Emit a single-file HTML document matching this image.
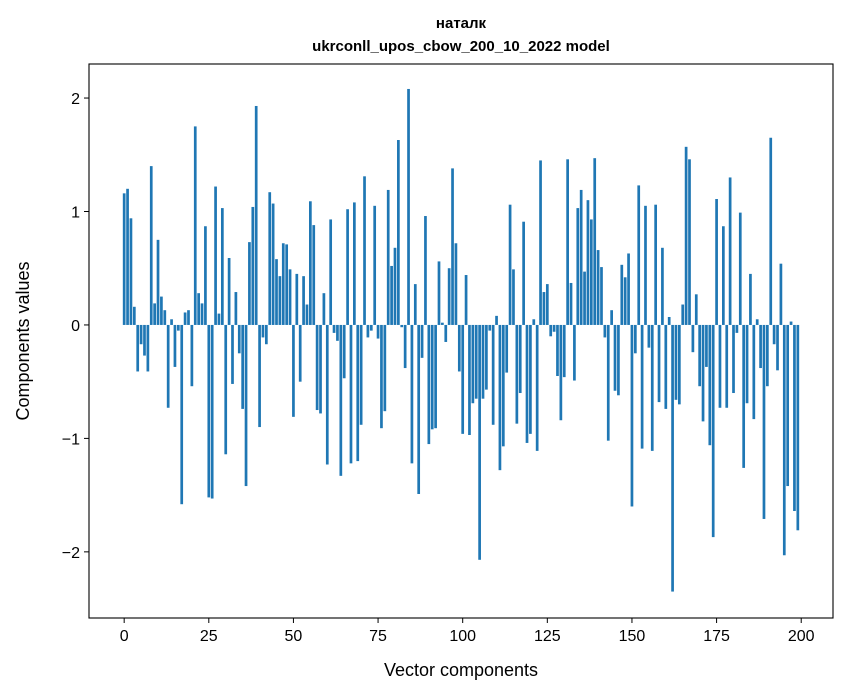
<!DOCTYPE html>
<html><head><meta charset="utf-8"><style>
body{margin:0;background:#fff;}
svg{display:block;font-family:"Liberation Sans","DejaVu Sans",sans-serif;}
</style></head><body>
<svg id="chart" width="847" height="696" viewBox="0 0 847 696" xmlns="http://www.w3.org/2000/svg">
<rect width="847" height="696" fill="#fff"/>
<text x="461" y="28" text-anchor="middle" font-size="15" font-weight="bold">наталк</text>
<text x="461" y="51" text-anchor="middle" font-size="15" font-weight="bold">ukrconll_upos_cbow_200_10_2022 model</text>
<g id="bars"></g>
<rect x="89" y="64" width="744" height="554" fill="none" stroke="#000" stroke-width="1.1"/>
<g id="xticks"></g>
<g id="yticks"></g>
<text x="461" y="676" text-anchor="middle" font-size="18">Vector components</text>
<text transform="translate(29,341) rotate(-90)" text-anchor="middle" font-size="18">Components values</text>
</svg>
<script>
const values = [1.16,1.20,0.94,0.16,-0.41,-0.17,-0.27,-0.41,1.40,0.19,0.75,0.25,0.13,-0.73,0.05,-0.37,-0.05,-1.58,0.11,0.13,
-0.54,1.75,0.28,0.19,0.87,-1.52,-1.53,1.22,0.10,1.03,-1.14,0.59,-0.52,0.29,-0.25,-0.74,-1.42,0.73,1.04,1.93,
-0.90,-0.11,-0.17,1.17,1.07,0.58,0.43,0.72,0.71,0.49,-0.81,0.45,-0.50,0.43,0.18,1.09,0.88,-0.75,-0.78,0.28,
-1.23,0.93,-0.07,-0.14,-1.33,-0.47,1.02,-1.22,1.08,-1.20,-0.88,1.31,-0.11,-0.05,1.05,-0.12,-0.91,-0.76,1.19,0.52,
0.68,1.63,-0.02,-0.38,2.08,-1.22,0.36,-1.49,-0.29,0.96,-1.05,-0.92,-0.91,0.56,0.02,-0.15,0.50,1.38,0.72,-0.41,
-0.96,0.44,-0.97,-0.69,-0.65,-2.07,-0.65,-0.57,-0.05,-0.88,0.08,-1.28,-1.07,-0.42,1.06,0.49,-0.87,-0.60,0.91,-1.04,
-0.96,0.05,-1.11,1.45,0.29,0.36,-0.10,-0.06,-0.45,-0.84,-0.46,1.46,0.37,-0.49,1.03,1.19,0.47,1.10,0.93,1.47,
0.66,0.51,-0.11,-1.02,0.13,-0.58,-0.62,0.53,0.42,0.63,-1.60,-0.25,1.23,-1.09,1.05,-0.20,-1.11,1.06,-0.68,0.68,
-0.74,0.07,-2.35,-0.66,-0.70,0.18,1.57,1.46,-0.24,0.27,-0.54,-0.85,-0.37,-1.06,-1.87,1.11,-0.73,0.87,-0.73,1.30,
-0.60,-0.07,0.99,-1.26,-0.69,0.45,-0.83,0.05,-0.38,-1.71,-0.54,1.65,-0.17,-0.40,0.54,-2.03,-1.42,0.03,-1.64,-1.81];
const xTicks = [0,25,50,75,100,125,150,175,200];
const yTicks = [-2,-1,0,1,2];
const yTickLabels = ["\u22122","\u22121","0","1","2"];

const NS="http://www.w3.org/2000/svg";
const X0=89,X1=833,Y0=64,Y1=618;
const xmin=-10.39,xmax=209.39,ymin=-2.583,ymax=2.30;
const xs=v=>X0+(v-xmin)/(xmax-xmin)*(X1-X0);
const ys=v=>Y1-(v-ymin)/(ymax-ymin)*(Y1-Y0);
const bars=document.getElementById('bars');
values.forEach((v,i)=>{
  const r=document.createElementNS(NS,'rect');
  
  
  const xl=xs(i-0.4), xr=xs(i+0.4);
  const y=Math.min(ys(v),ys(0)), h=Math.abs(ys(v)-ys(0));
  r.setAttribute('x',xl);r.setAttribute('width',xr-xl);
  r.setAttribute('y',y);r.setAttribute('height',h);
  r.setAttribute('fill','#1f77b4');
  bars.appendChild(r);
});
const xg=document.getElementById('xticks');
xTicks.forEach(t=>{
  const l=document.createElementNS(NS,'line');
  
  
  l.setAttribute('x1',xs(t));l.setAttribute('x2',xs(t));
  l.setAttribute('y1',Y1);l.setAttribute('y2',Y1+5);
  l.setAttribute('stroke','#000');
  xg.appendChild(l);
  const tx=document.createElementNS(NS,'text');
  
  
  tx.setAttribute('x',xs(t));tx.setAttribute('y',Y1+23);
  tx.setAttribute('text-anchor','middle');tx.setAttribute('font-size','16');
  tx.textContent=t;
  xg.appendChild(tx);
});
const yg=document.getElementById('yticks');
yTicks.forEach((t,i)=>{
  const l=document.createElementNS(NS,'line');
  
  
  l.setAttribute('x1',X0-5);l.setAttribute('x2',X0);
  l.setAttribute('y1',ys(t));l.setAttribute('y2',ys(t));
  l.setAttribute('stroke','#000');
  yg.appendChild(l);
  const tx=document.createElementNS(NS,'text');
  
  
  tx.setAttribute('x',X0-9);tx.setAttribute('y',ys(t)+6);
  tx.setAttribute('text-anchor','end');tx.setAttribute('font-size','16');
  tx.textContent=yTickLabels[i];
  yg.appendChild(tx);
});
</script>
</body></html>
